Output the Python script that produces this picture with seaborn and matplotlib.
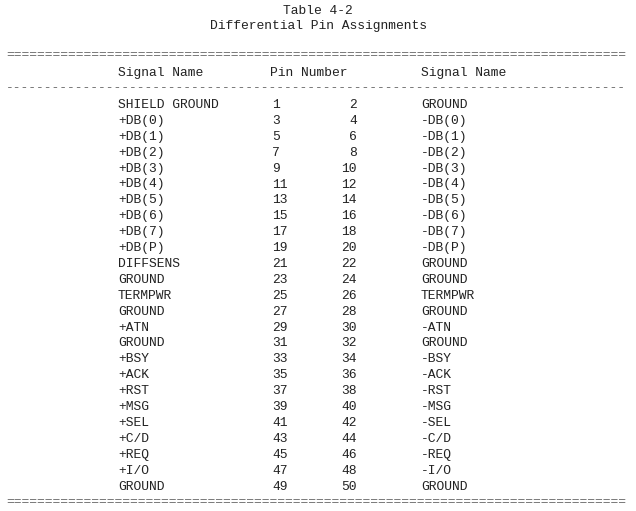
import matplotlib
matplotlib.use("Agg")
import matplotlib.pyplot as plt
import seaborn as sns

# table content
title_lines = ["Table 4-2", "Differential Pin Assignments"]
headers = ["Signal Name", "Pin Number", "Signal Name"]

left_names = [
    "SHIELD GROUND", "+DB(0)", "+DB(1)", "+DB(2)", "+DB(3)", "+DB(4)",
    "+DB(5)", "+DB(6)", "+DB(7)", "+DB(P)", "DIFFSENS", "GROUND",
    "TERMPWR", "GROUND", "+ATN", "GROUND", "+BSY", "+ACK", "+RST",
    "+MSG", "+SEL", "+C/D", "+REQ", "+I/O", "GROUND",
]
left_pins = [1, 3, 5, 7, 9, 11, 13, 15, 17, 19, 21, 23, 25, 27, 29,
             31, 33, 35, 37, 39, 41, 43, 45, 47, 49]
right_pins = [2, 4, 6, 8, 10, 12, 14, 16, 18, 20, 22, 24, 26, 28, 30,
              32, 34, 36, 38, 40, 42, 44, 46, 48, 50]
right_names = [
    "GROUND", "-DB(0)", "-DB(1)", "-DB(2)", "-DB(3)", "-DB(4)",
    "-DB(5)", "-DB(6)", "-DB(7)", "-DB(P)", "GROUND", "GROUND",
    "TERMPWR", "GROUND", "-ATN", "GROUND", "-BSY", "-ACK", "-RST",
    "-MSG", "-SEL", "-C/D", "-REQ", "-I/O", "GROUND",
]


def main():
    sns.set_theme(style="white")
    plt.rcParams["font.family"] = ["Liberation Mono", "DejaVu Sans Mono"]

    fig = plt.figure(figsize=(6.36, 5.11), dpi=100)
    ax = fig.add_axes([0, 0, 1, 1])
    ax.set_xlim(0, 636)
    ax.set_ylim(511, 0)
    ax.axis("off")

    ink = "#222222"
    rule = "#666666"
    fs = 9.4

    ax.text(318, 11, title_lines[0], ha="center", va="center", fontsize=fs, color=ink)
    ax.text(318, 26, title_lines[1], ha="center", va="center", fontsize=fs, color=ink)

    ax.text(6, 55, "=" * 80, ha="left", va="center", fontsize=fs, color=rule)
    ax.text(118, 73, headers[0], ha="left", va="center", fontsize=fs, color=ink)
    ax.text(270, 73, headers[1], ha="left", va="center", fontsize=fs, color=ink)
    ax.text(421, 73, headers[2], ha="left", va="center", fontsize=fs, color=ink)
    ax.text(6, 88, "-" * 80, ha="left", va="center", fontsize=fs, color=rule)

    y0, step = 105, 15.9
    for i in range(len(left_names)):
        y = y0 + i * step
        ax.text(118, y, left_names[i], ha="left", va="center", fontsize=fs, color=ink)
        ax.text(272, y, str(left_pins[i]), ha="left", va="center", fontsize=fs, color=ink)
        ax.text(357, y, str(right_pins[i]), ha="right", va="center", fontsize=fs, color=ink)
        ax.text(421, y, right_names[i], ha="left", va="center", fontsize=fs, color=ink)

    ax.text(6, 502, "=" * 80, ha="left", va="center", fontsize=fs, color=rule)

    fig.savefig("out.png", dpi=100, facecolor="white")
    plt.close(fig)


if __name__ == "__main__":
    main()
